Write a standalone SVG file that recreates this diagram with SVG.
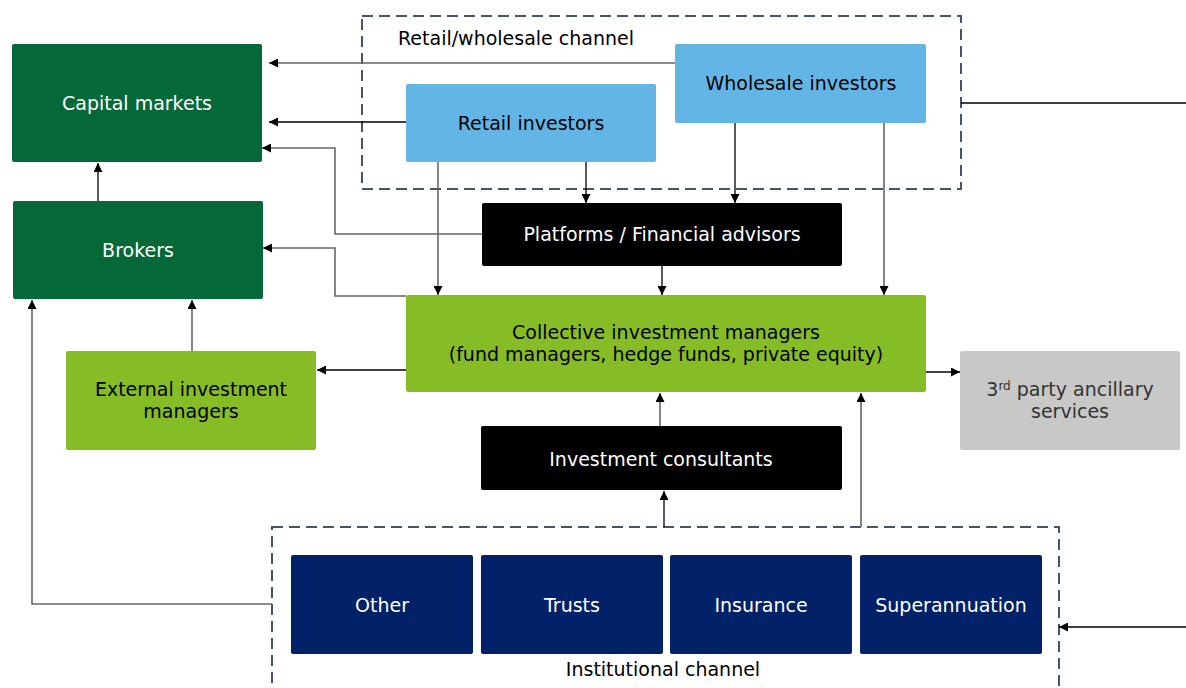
<svg xmlns="http://www.w3.org/2000/svg" width="1186" height="688" viewBox="0 0 1186 688">
<defs>
<marker id="ah" viewBox="0 0 10 10" refX="10" refY="5" markerWidth="9" markerHeight="9" markerUnits="userSpaceOnUse" orient="auto">
<path d="M0,0 L10,5 L0,10 z" fill="#000"/>
</marker>
<style>
text{font-family:"DejaVu Sans","Verdana",sans-serif;font-size:19px;text-anchor:middle;}
.dg{fill:#056839}.lg{fill:#86BC25}.lb{fill:#62B5E5}.bk{fill:#000}.gr{fill:#C8C9C7}.nv{fill:#012169}
.w{fill:#fff}.b{fill:#000}.g{fill:#333}
.dash{fill:none;stroke:#47536C;stroke-width:2;stroke-dasharray:11,6}
.c{fill:none;stroke:#000;stroke-width:1.3}
.cg{fill:none;stroke:#666;stroke-width:1.6}
.ca{marker-end:url(#ah)}
</style>
</defs>
<rect width="1186" height="688" fill="#fff"/>
<g id="retail-channel">
<rect class="dash" x="362" y="16" width="599" height="173"/>
<text x="516" y="45" class="b">Retail/wholesale channel</text>
</g>
<g id="institutional-channel">
<rect class="dash" x="272" y="527" width="787" height="175"/>
<text x="663" y="676" class="b">Institutional channel</text>
</g>
<g id="connectors">
<path class="cg ca" d="M675,63 H269"/>
<path class="c ca" d="M406,122 H269"/>
<path class="cg ca" d="M482,234 H335 V148 H262"/>
<path class="cg ca" d="M406,296 H335 V248 H263"/>
<path class="c ca" d="M98,201 V163"/>
<path class="cg ca" d="M192,351 V300"/>
<path class="cg ca" d="M272,604 H32 V300"/>
<path class="cg ca" d="M438,162 V295"/>
<path class="c ca" d="M586,162 V203"/>
<path class="c ca" d="M735,123 V203"/>
<path class="cg ca" d="M884,123 V295"/>
<path class="c ca" d="M662,266 V295"/>
<path class="c ca" d="M406,370 H317"/>
<path class="c ca" d="M926,372 H960"/>
<path class="cg ca" d="M660,426 V393"/>
<path class="c ca" d="M664,527 V491"/>
<path class="cg ca" d="M861,527 V393"/>
<path class="c" d="M961,103 H1186"/>
<path class="c ca" d="M1186,627 H1059"/>
</g>
<g id="capital-markets">
<rect class="dg" x="12" y="44" width="250" height="118" rx="2"/>
<text class="w" x="137" y="110">Capital markets</text>
</g>
<g id="brokers">
<rect class="dg" x="13" y="201" width="250" height="98" rx="2"/>
<text class="w" x="138" y="257">Brokers</text>
</g>
<g id="external-investment-managers">
<rect class="lg" x="66" y="351" width="250" height="99" rx="2"/>
<text class="b" x="191" y="396">External investment</text>
<text class="b" x="191" y="418">managers</text>
</g>
<g id="retail-investors">
<rect class="lb" x="406" y="84" width="250" height="78" rx="2"/>
<text class="b" x="531" y="130">Retail investors</text>
</g>
<g id="wholesale-investors">
<rect class="lb" x="675" y="44" width="251" height="79" rx="2"/>
<text class="b" x="801" y="90">Wholesale investors</text>
</g>
<g id="platforms">
<rect class="bk" x="482" y="203" width="360" height="63" rx="2"/>
<text class="w" x="662" y="241">Platforms / Financial advisors</text>
</g>
<g id="collective-investment-managers">
<rect class="lg" x="406" y="295" width="520" height="97" rx="2"/>
<text class="b" x="666" y="339">Collective investment managers</text>
<text class="b" x="666" y="361">(fund managers, hedge funds, private equity)</text>
</g>
<g id="third-party">
<rect class="gr" x="960" y="351" width="220" height="99" rx="2"/>
<text class="g" x="1070" y="396">3<tspan dy="-6" style="font-size:12px">rd</tspan><tspan dy="6"> party ancillary</tspan></text>
<text class="g" x="1070" y="418">services</text>
</g>
<g id="investment-consultants">
<rect class="bk" x="481" y="426" width="361" height="64" rx="2"/>
<text class="w" x="661" y="466">Investment consultants</text>
</g>
<g id="other">
<rect class="nv" x="291" y="555" width="182" height="99" rx="2"/>
<text class="w" x="382" y="612">Other</text>
</g>
<g id="trusts">
<rect class="nv" x="481" y="555" width="182" height="99" rx="2"/>
<text class="w" x="572" y="612">Trusts</text>
</g>
<g id="insurance">
<rect class="nv" x="670" y="555" width="182" height="99" rx="2"/>
<text class="w" x="761" y="612">Insurance</text>
</g>
<g id="superannuation">
<rect class="nv" x="860" y="555" width="182" height="99" rx="2"/>
<text class="w" x="951" y="612">Superannuation</text>
</g>
</svg>
